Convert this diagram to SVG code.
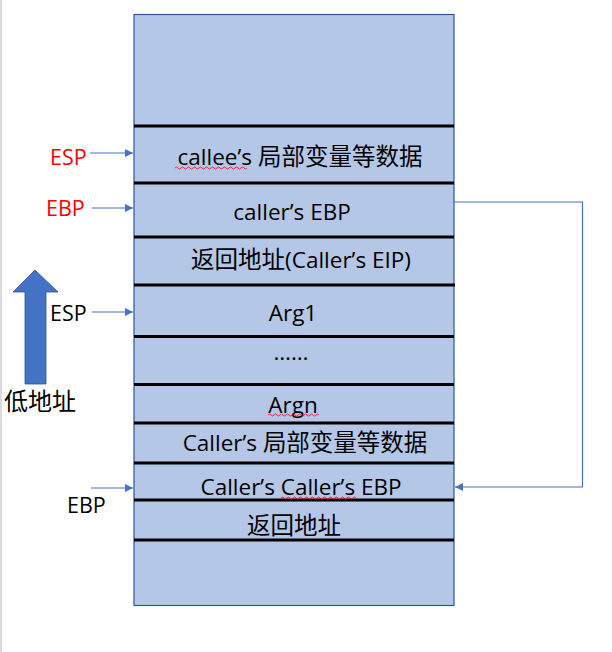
<svg xmlns="http://www.w3.org/2000/svg" width="612" height="652" viewBox="0 0 612 652">
<defs>
<style>
text{font-family:"Open Sans","Noto Sans CJK SC",sans-serif;font-size:22.5px;fill:#000}
.c{text-anchor:middle}
.k{font-family:"Noto Sans CJK SC",sans-serif;font-size:23.5px}
.lbl{font-size:21.5px}
.red{fill:#ff0000}
.sep{stroke:#000;stroke-width:3}
.conn{stroke:#4472c4;stroke-width:1.2;fill:none}
.wavy{stroke:#ff0000;stroke-width:0.8;fill:none}
</style>
<marker id="ah" viewBox="0 0 10 10" refX="10" refY="5" markerWidth="8" markerHeight="8" markerUnits="userSpaceOnUse" orient="auto">
<path d="M0,0 L10,5 L0,10 z" fill="#4472c4"/>
</marker>
</defs>
<rect width="612" height="652" fill="#fff"/>
<line x1="1" y1="0" x2="1" y2="652" stroke="#d0d0d0" stroke-width="1.5"/>
<g id="stack">
<rect x="134" y="14.5" width="320" height="591" fill="#b4c7e7" stroke="#2f5597" stroke-width="1.2"/>
<line class="sep" x1="134" y1="126" x2="454" y2="126"/>
<line class="sep" x1="134" y1="183" x2="454" y2="183"/>
<line class="sep" x1="134" y1="237" x2="454" y2="237"/>
<line class="sep" x1="134" y1="285" x2="455" y2="285"/>
<line class="sep" x1="134" y1="336.5" x2="454" y2="336.5"/>
<line class="sep" x1="134" y1="384.5" x2="454" y2="384.5"/>
<line class="sep" x1="134" y1="423" x2="454" y2="423"/>
<line class="sep" x1="134" y1="463" x2="454" y2="463"/>
<line class="sep" x1="134" y1="500" x2="454" y2="500"/>
<line class="sep" x1="134" y1="540" x2="454" y2="540"/>
</g>
<g id="n1"><text class="c" x="300" y="165">callee’s <tspan class="k">局部变量等数据</tspan></text>
<path class="wavy" d="M175,168 q1.5,-2 3,0 t3,0 t3,0 t3,0 t3,0 t3,0 t3,0 t3,0 t3,0 t3,0 t3,0 t3,0 t3,0 t3,0 t3,0 t3,0 t3,0 t3,0 t3,0 t3,0 t3,0 t3,0 t3,0 t3,0"/></g>
<g id="n2"><text class="c" x="292" y="220">caller’s EBP</text></g>
<g id="n3"><text class="c" x="301" y="268"><tspan class="k">返回地址</tspan>(Caller’s EIP)</text></g>
<g id="n4"><text class="c" x="293" y="321">Arg1</text></g>
<g id="n5"><text class="c" x="291" y="360">……</text></g>
<g id="n6"><text class="c" x="293" y="413">Argn</text>
<path class="wavy" d="M268,415 q1.5,-2 3,0 t3,0 t3,0 t3,0 t3,0 t3,0 t3,0 t3,0 t3,0 t3,0 t3,0 t3,0 t3,0 t3,0 t3,0 t3,0 t3,0"/></g>
<g id="n7"><text class="c" x="305" y="451">Caller’s <tspan class="k">局部变量等数据</tspan></text></g>
<g id="n8"><text class="c" x="301" y="495">Caller’s Caller’s EBP</text>
<path class="wavy" d="M281,498 q1.5,-2 3,0 t3,0 t3,0 t3,0 t3,0 t3,0 t3,0 t3,0 t3,0 t3,0 t3,0 t3,0 t3,0 t3,0 t3,0 t3,0 t3,0 t3,0 t3,0 t3,0 t3,0 t3,0 t3,0 t3,0 t3,0"/></g>
<g id="n9"><text class="c k" x="294" y="534">返回地址</text></g>
<g id="lbl-esp1"><text class="red lbl" x="50" y="165">ESP</text></g>
<g id="lbl-ebp1"><text class="red lbl" x="46" y="216">EBP</text></g>
<g id="lbl-esp2"><text class="lbl" x="50" y="321">ESP</text></g>
<g id="lbl-ebp2"><text class="lbl" x="67" y="513">EBP</text></g>
<g id="low-addr">
<path d="M35,270 L58,292 L46,292 L46,384 L25,384 L25,292 L13,292 Z" fill="#4472c4" stroke="#2f5597" stroke-width="0.8"/>
<text class="k" x="4" y="410" style="font-size:24px">低地址</text>
</g>
<g id="connectors">
<line class="conn" x1="90" y1="153" x2="133" y2="153" marker-end="url(#ah)"/>
<line class="conn" x1="92" y1="208" x2="133" y2="208" marker-end="url(#ah)"/>
<line class="conn" x1="92" y1="312" x2="133" y2="312" marker-end="url(#ah)"/>
<line class="conn" x1="91" y1="488" x2="133" y2="488" marker-end="url(#ah)"/>
<polyline class="conn" points="454,202 582.5,202 582.5,487 455,487" marker-end="url(#ah)"/>
</g>
</svg>
